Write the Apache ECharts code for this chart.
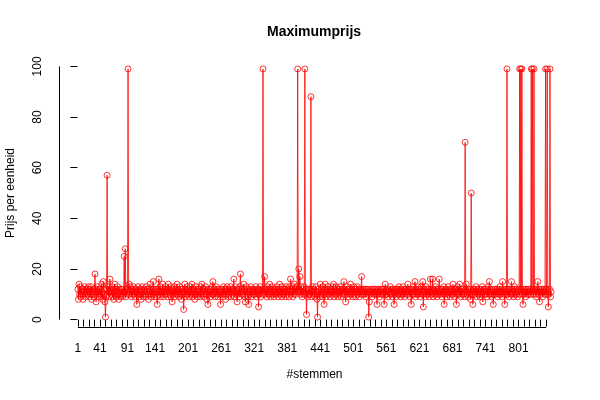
<!DOCTYPE html>
<html>
<head>
<meta charset="utf-8">
<script src="https://cdn.jsdelivr.net/npm/echarts@6/dist/echarts.min.js"></script>
<style>
    html, body { margin: 0; padding: 0; background: #fff; }
    #maxprijs { width: 600px; height: 400px; }
</style>
</head>
<body>
<div id="maxprijs"></div>
<script type="text/javascript">

    // Maximumprijs per stemming, gelezen uit de figuur (index 1..860)
    var prijzen = [
        12, 8, 14, 10, 13, 9, 11, 12, 10, 8, 12, 11, 13, 10, 9, 12, 11, 10, 12, 13,
        11, 9, 12, 10, 13, 8, 11, 12, 10, 9, 12, 18, 11, 7, 12, 10, 13, 11, 9, 12,
        10, 12, 9, 14, 11, 8, 15, 12, 10, 7, 1, 9, 12, 57, 10, 13, 11, 9, 16, 12,
        11, 10, 13, 9, 12, 8, 11, 14, 10, 12, 9, 11, 13, 10, 8, 12, 11, 9, 12, 10,
        12, 9, 11, 10, 25, 11, 28, 9, 12, 10, 11, 99, 12, 14, 10, 13, 11, 9, 12, 10,
        11, 13, 10, 12, 9, 11, 12, 6, 10, 13, 11, 9, 12, 10, 11, 8, 12, 13, 10, 9,
        12, 11, 10, 9, 13, 11, 12, 10, 8, 11, 12, 14, 10, 9, 12, 11, 10, 15, 12, 9,
        10, 12, 11, 9, 6, 12, 11, 16, 10, 13, 9, 11, 12, 10, 14, 9, 11, 12, 10, 13,
        11, 10, 12, 9, 14, 11, 12, 10, 13, 9, 11, 7, 12, 10, 11, 13, 9, 12, 10, 11,
        14, 10, 12, 9, 11, 13, 10, 12, 8, 11, 12, 10, 4, 11, 14, 9, 12, 10, 13, 11,
        10, 12, 9, 11, 13, 10, 12, 14, 9, 11, 10, 12, 8, 11, 13, 10, 12, 9, 11, 10,
        12, 11, 9, 13, 10, 14, 11, 12, 10, 9, 12, 11, 13, 10, 8, 12, 6, 11, 10, 12,
        11, 9, 12, 10, 13, 15, 10, 11, 12, 9, 11, 13, 10, 12, 9, 11, 10, 12, 11, 6,
        10, 12, 11, 9, 13, 10, 12, 11, 8, 12, 10, 13, 11, 9, 12, 10, 11, 13, 9, 12,
        11, 10, 12, 16, 9, 11, 13, 10, 12, 7, 11, 10, 12, 9, 13, 18, 11, 10, 12, 11,
        10, 14, 12, 9, 7, 11, 13, 10, 12, 9, 6, 11, 10, 12, 13, 9, 11, 12, 10, 11,
        12, 10, 11, 13, 9, 12, 10, 11, 5, 12, 10, 13, 9, 11, 12, 10, 99, 11, 12, 17,
        10, 12, 11, 9, 13, 10, 12, 11, 14, 10, 9, 12, 11, 13, 10, 12, 9, 11, 10, 12,
        11, 13, 10, 12, 9, 11, 14, 10, 12, 11, 9, 13, 10, 12, 11, 10, 12, 9, 13, 11,
        10, 12, 11, 9, 13, 12, 16, 10, 11, 12, 9, 13, 10, 14, 11, 12, 10, 13, 11, 99,
        11, 20, 12, 17, 10, 13, 11, 9, 12, 10, 11, 13, 99, 10, 12, 2, 11, 9, 12, 10,
        12, 10, 11, 88, 9, 12, 13, 10, 11, 12, 9, 10, 13, 11, 8, 1, 10, 12, 11, 9,
        14, 10, 12, 11, 9, 13, 10, 6, 12, 14, 11, 9, 12, 10, 13, 11, 10, 12, 9, 11,
        12, 10, 11, 13, 14, 9, 12, 10, 11, 13, 10, 12, 9, 11, 12, 10, 13, 11, 9, 12,
        10, 12, 11, 15, 10, 12, 7, 11, 13, 10, 12, 9, 11, 10, 12, 14, 11, 10, 12, 9,
        11, 13, 10, 12, 9, 11, 12, 13, 10, 11, 12, 9, 11, 10, 12, 17, 11, 10, 12, 11,
        10, 12, 11, 9, 12, 10, 11, 12, 1, 7, 11, 10, 12, 11, 9, 12, 10, 11, 12, 10,
        11, 12, 10, 6, 11, 12, 10, 11, 9, 12, 11, 10, 12, 11, 10, 12, 6, 11, 14, 10,
        12, 10, 11, 9, 12, 11, 10, 13, 11, 12, 10, 9, 12, 11, 6, 10, 12, 11, 9, 12,
        11, 10, 12, 13, 10, 11, 9, 12, 10, 11, 13, 10, 12, 9, 11, 12, 10, 11, 12, 14,
        10, 12, 11, 9, 12, 6, 11, 10, 12, 13, 10, 11, 15, 9, 12, 10, 11, 13, 10, 12,
        11, 9, 12, 10, 13, 11, 15, 5, 10, 12, 11, 9, 13, 10, 12, 11, 10, 12, 9, 11,
        16, 10, 12, 11, 16, 9, 12, 10, 11, 13, 10, 12, 9, 11, 10, 12, 16, 11, 10, 12,
        11, 9, 12, 10, 13, 6, 11, 12, 10, 11, 9, 12, 13, 10, 11, 12, 9, 11, 10, 12,
        10, 14, 11, 12, 9, 11, 12, 6, 10, 13, 11, 12, 10, 14, 11, 9, 12, 10, 11, 12,
        11, 10, 9, 70, 12, 14, 10, 11, 12, 9, 11, 10, 12, 8, 50, 11, 10, 6, 12, 11,
        12, 10, 11, 13, 9, 12, 10, 11, 12, 10, 9, 11, 12, 10, 13, 7, 11, 12, 10, 11,
        12, 10, 11, 9, 12, 13, 10, 15, 11, 12, 10, 9, 11, 12, 6, 10, 11, 12, 10, 11,
        12, 11, 9, 10, 12, 11, 13, 10, 11, 12, 9, 15, 11, 10, 12, 6, 11, 10, 12, 99,
        10, 12, 11, 9, 12, 10, 11, 15, 12, 10, 11, 9, 12, 13, 10, 11, 12, 10, 9, 11,
        12, 10, 99, 11, 99, 12, 99, 10, 6, 11, 12, 10, 11, 9, 12, 11, 10, 12, 11, 10,
        11, 12, 10, 99, 11, 99, 12, 10, 99, 11, 12, 10, 9, 12, 11, 15, 10, 12, 7, 11,
        12, 10, 11, 12, 9, 11, 12, 10, 11, 99, 12, 10, 99, 11, 5, 10, 12, 99, 9, 11
    ];

    var xLabels = [1, 41, 91, 141, 201, 261, 321, 381, 441, 501, 561, 621, 681, 741, 801];
    var yLabels = [0, 20, 40, 60, 80, 100];

    var n = prijzen.length;
    var xTicks = [];
    for (var t = 1; t <= n; t += 10) {
        xTicks.push(t);
    }

    // R-achtige asbereik uitbreiding van 4%
    var xMin = 1 - (n - 1) * 0.04, xMax = n + (n - 1) * 0.04;
    var yMin = 1 - 98 * 0.04, yMax = 99 + 98 * 0.04;

    var punten = prijzen.map(function (v, i) { return [i + 1, v]; });

    var chart = echarts.init(document.getElementById('maxprijs'));
    var font = 'Liberation Sans, Arial, Helvetica, sans-serif';

    chart.setOption({
        animation: false,
        title: {
            text: 'Maximumprijs',
            left: 262,
            top: 20,
            textStyle: { fontFamily: font, fontSize: 14, fontWeight: 'bold', color: '#000' }
        },
        grid: { left: 59, right: 30, top: 59, bottom: 73, containLabel: false, outerBoundsMode: 'none' },
        xAxis: {
            type: 'value',
            min: xMin,
            max: xMax,
            name: '#stemmen',
            nameLocation: 'middle',
            nameGap: 42,
            nameTextStyle: { fontFamily: font, fontSize: 12, color: '#000' },
            axisLine: { show: false },
            axisTick: { show: true, length: 7, customValues: xTicks, lineStyle: { color: '#000' } },
            axisLabel: { customValues: xLabels, margin: 16, fontFamily: font, fontSize: 12, color: '#000' },
            splitLine: { show: false }
        },
        yAxis: {
            type: 'value',
            min: yMin,
            max: yMax,
            name: 'Prijs per eenheid',
            nameLocation: 'middle',
            nameGap: 42,
            nameTextStyle: { fontFamily: font, fontSize: 12, color: '#000' },
            axisLine: { show: false },
            axisTick: { show: true, length: 7, customValues: yLabels, lineStyle: { color: '#000' } },
            axisLabel: { customValues: yLabels, rotate: 90, margin: 15, fontFamily: font, fontSize: 12, color: '#000' },
            splitLine: { show: false }
        },
        series: [
            {
                type: 'line',
                data: punten,
                symbol: 'circle',
                symbolSize: 6,
                showAllSymbol: true,
                silent: true,
                lineStyle: { color: '#ff0000', width: 0.8 },
                itemStyle: { color: 'rgba(0,0,0,0)', borderColor: '#ff0000', borderWidth: 0.8 },
                markLine: {
                    silent: true,
                    symbol: 'none',
                    label: { show: false },
                    lineStyle: { color: '#000', width: 1, type: 'solid' },
                    data: [
                        [{ coord: [1, yMin] }, { coord: [xTicks[xTicks.length - 1], yMin] }],
                        [{ coord: [xMin, 0] }, { coord: [xMin, 100] }]
                    ]
                }
            }
        ]
    });

</script>
</body>
</html>
